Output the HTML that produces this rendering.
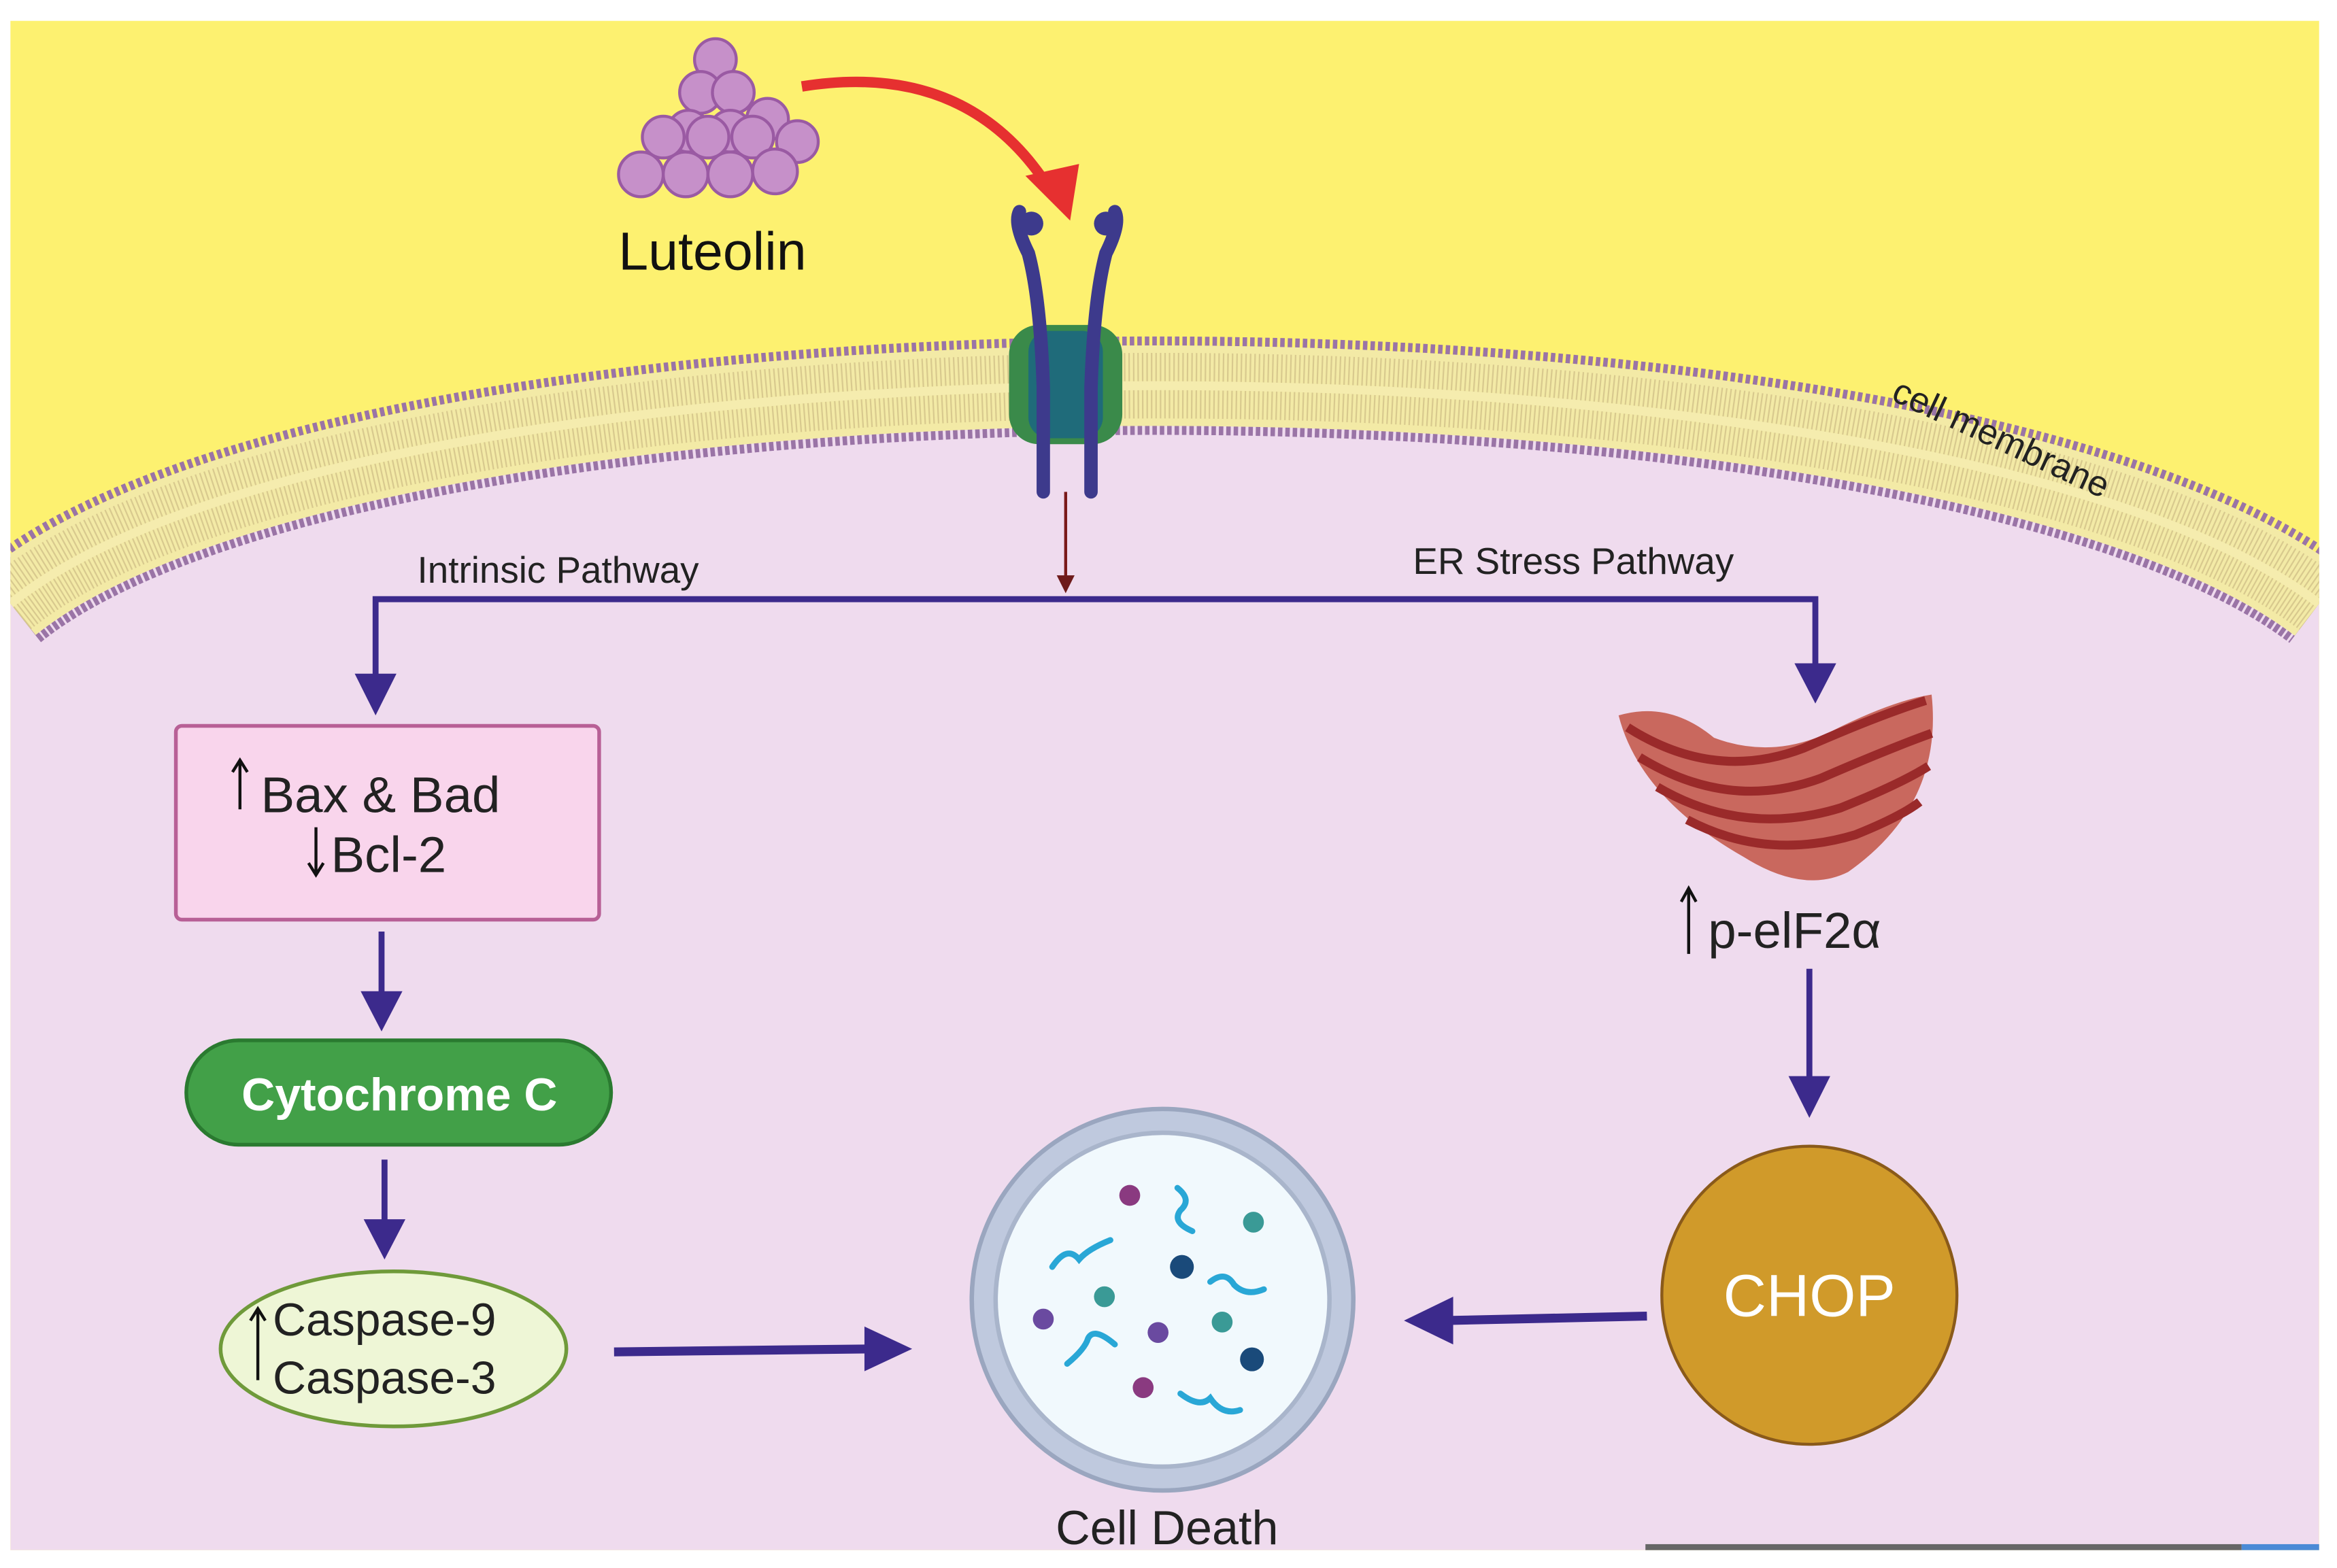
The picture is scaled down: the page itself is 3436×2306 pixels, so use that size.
<!DOCTYPE html>
<html><head><meta charset="utf-8"><style>
html,body{margin:0;padding:0;background:#fff;}
svg{display:block;}
text{font-family:"Liberation Sans",sans-serif;}
</style></head><body>
<svg width="3436" height="2306" viewBox="0 0 1568 1052" preserveAspectRatio="none" xmlns="http://www.w3.org/2000/svg">
<defs>
<marker id="ahr" markerWidth="6" markerHeight="6" refX="3" refY="3" orient="auto" markerUnits="strokeWidth"><path d="M0,0 L6,3 L0,6 Z" fill="#6e1a1a"/></marker>
<clipPath id="cp"><rect x="7" y="14" width="1549" height="1026"/></clipPath>
</defs>
<rect x="7" y="14" width="1549" height="1026" fill="#fdf170"/>
<g clip-path="url(#cp)">
<path d="M7,405 C250,210 1300,210 1556,405 L1556,1040 L7,1040 Z" fill="#efdbee"/>
<path d="M7,405 C250,210 1300,210 1556,405" fill="none" stroke="#9a74a6" stroke-width="66" stroke-dasharray="3 2"/>
<path d="M7,405 C250,210 1300,210 1556,405" fill="none" stroke="#f3eaa6" stroke-width="54"/>
<path d="M7,405 C250,210 1300,210 1556,405" fill="none" stroke="#d8c98e" stroke-width="44" stroke-dasharray="1 2"/>
<path d="M7,405 C250,210 1300,210 1556,405" fill="none" stroke="#f5ecae" stroke-width="6"/>
</g>
<text x="1268" y="268" font-size="24" fill="#222" transform="rotate(25 1268 268)">cell membrane</text>
<!-- receptor -->
<rect x="677" y="218" width="76" height="80" rx="20" fill="#3a8a4a"/>
<rect x="690" y="222" width="50" height="72" rx="14" fill="#1f6b7a"/>
<path d="M700,330 L700,260 Q698,200 690,170 Q680,150 684,142" fill="none" stroke="#3d3a8c" stroke-width="9" stroke-linecap="round"/>
<path d="M732,330 L732,260 Q734,200 742,170 Q752,150 748,142" fill="none" stroke="#3d3a8c" stroke-width="9" stroke-linecap="round"/>
<circle cx="692" cy="150" r="8" fill="#3d3a8c"/><circle cx="742" cy="150" r="8" fill="#3d3a8c"/>
<!-- luteolin cluster -->
<g fill="#c690c9" stroke="#9a5aa3" stroke-width="2">
<circle cx="480" cy="40" r="14"/>
<circle cx="470" cy="62" r="14"/><circle cx="492" cy="62" r="14"/>
<circle cx="462" cy="88" r="14"/><circle cx="490" cy="88" r="14"/><circle cx="515" cy="80" r="14"/>
<circle cx="445" cy="92" r="14"/><circle cx="475" cy="92" r="14"/><circle cx="505" cy="92" r="14"/><circle cx="535" cy="95" r="14"/>
<circle cx="430" cy="117" r="15"/><circle cx="460" cy="117" r="15"/><circle cx="490" cy="117" r="15"/><circle cx="520" cy="115" r="15"/>
</g>
<text x="478" y="181" font-size="36" text-anchor="middle" fill="#111">Luteolin</text>
<path d="M538,58 Q650,40 705,128" fill="none" stroke="#e63030" stroke-width="7"/>
<path d="M688,118 L724,110 L718,148 Z" fill="#e63030"/>
<!-- main lines -->
<line x1="715" y1="330" x2="715" y2="392" stroke="#7a1a1a" stroke-width="2" marker-end="url(#ahr)"/>
<path d="M252,460 L252,402 L1218,402 L1218,455" fill="none" stroke="#3c2a8c" stroke-width="4"/>
<path d="M238,452 L266,452 L252,480 Z" fill="#3c2a8c"/>
<path d="M1204,445 L1232,445 L1218,472 Z" fill="#3c2a8c"/>
<text x="280" y="391" font-size="25" fill="#222">Intrinsic Pathway</text>
<text x="948" y="385" font-size="25" fill="#222">ER Stress Pathway</text>
<!-- Bax box -->
<rect x="118" y="487" width="284" height="130" rx="4" fill="#f9d5ec" stroke="#b86096" stroke-width="2.5"/>
<text x="175" y="545" font-size="34" fill="#222">Bax &amp; Bad</text>
<text x="222" y="585" font-size="34" fill="#222">Bcl-2</text>
<path d="M161,543 L161,512 M156,518 L161,510 L166,518" stroke="#111" stroke-width="2" fill="none"/>
<path d="M212,555 L212,585 M207,579 L212,587 L217,579" stroke="#111" stroke-width="2" fill="none"/>
<line x1="256" y1="625" x2="256" y2="670" stroke="#3c2a8c" stroke-width="4"/>
<path d="M242,665 L270,665 L256,692 Z" fill="#3c2a8c"/>
<!-- Cytochrome -->
<rect x="125" y="698" width="285" height="70" rx="35" fill="#42a048" stroke="#2a7a30" stroke-width="2.5"/>
<text x="268" y="745" font-size="31" text-anchor="middle" fill="#fff" font-weight="bold">Cytochrome C</text>
<line x1="258" y1="778" x2="258" y2="822" stroke="#3c2a8c" stroke-width="4"/>
<path d="M244,818 L272,818 L258,845 Z" fill="#3c2a8c"/>
<!-- Caspase -->
<ellipse cx="264" cy="905" rx="116" ry="52" fill="#eef6d6" stroke="#6f9a3a" stroke-width="2.5"/>
<text x="183" y="896" font-size="31" fill="#222">Caspase-9</text>
<text x="183" y="935" font-size="31" fill="#222">Caspase-3</text>
<path d="M173,926 L173,880 M168,886 L173,878 L178,886" stroke="#111" stroke-width="2" fill="none"/>
<line x1="412" y1="907" x2="585" y2="905" stroke="#3c2a8c" stroke-width="6"/>
<path d="M580,890 L612,905 L580,920 Z" fill="#3c2a8c"/>
<!-- ER -->
<path d="M1086,480 Q1120,470 1150,495 Q1190,510 1230,490 Q1270,470 1296,466 Q1304,540 1240,585 Q1210,600 1170,575 Q1100,535 1086,480 Z" fill="#c9685e"/>
<g fill="none" stroke="#9a2a2a" stroke-width="6">
<path d="M1092,488 Q1150,525 1210,502 Q1260,480 1292,470"/>
<path d="M1100,508 Q1160,545 1222,522 Q1268,502 1296,492"/>
<path d="M1112,528 Q1170,562 1235,542 Q1275,526 1294,514"/>
<path d="M1132,550 Q1185,578 1245,560 Q1275,548 1288,538"/>
</g>
<text x="1146" y="636" font-size="34" fill="#222">p-elF2α</text>
<path d="M1133,640 L1133,598 M1128,605 L1133,596 L1138,605" stroke="#111" stroke-width="2" fill="none"/>
<line x1="1214" y1="650" x2="1214" y2="725" stroke="#3c2a8c" stroke-width="4"/>
<path d="M1200,722 L1228,722 L1214,750 Z" fill="#3c2a8c"/>
<!-- CHOP -->
<ellipse cx="1214" cy="869" rx="99" ry="100" fill="#d09a2a" stroke="#8a5a1a" stroke-width="2"/>
<text x="1214" y="883" font-size="40" text-anchor="middle" fill="#fff">CHOP</text>
<line x1="1105" y1="883" x2="968" y2="886" stroke="#3c2a8c" stroke-width="6"/>
<path d="M975,870 L942,886 L975,902 Z" fill="#3c2a8c"/>
<!-- cell death -->
<ellipse cx="780" cy="872" rx="128" ry="128" fill="#bfc9de" stroke="#9aa6bf" stroke-width="3"/>
<ellipse cx="780" cy="872" rx="112" ry="112" fill="#f1f9fd" stroke="#a9b5cb" stroke-width="3"/>
<g fill="none" stroke="#29a7d6" stroke-width="4" stroke-linecap="round">
<path d="M790,797 Q800,805 792,812 Q786,820 800,826"/>
<path d="M706,850 Q716,835 724,845 Q730,838 745,832"/>
<path d="M812,860 Q822,852 828,862 Q836,870 848,865"/>
<path d="M716,915 Q728,905 730,898 Q734,890 748,902"/>
<path d="M792,935 Q805,945 812,938 Q820,950 832,946"/>
</g>
<circle cx="758" cy="802" r="7" fill="#8a3a80"/>
<circle cx="841" cy="820" r="7" fill="#3a9a96"/>
<circle cx="793" cy="850" r="8" fill="#1a4a7a"/>
<circle cx="741" cy="870" r="7" fill="#3a9a96"/>
<circle cx="700" cy="885" r="7" fill="#6a4aa0"/>
<circle cx="777" cy="894" r="7" fill="#6a4aa0"/>
<circle cx="820" cy="887" r="7" fill="#3a9a96"/>
<circle cx="840" cy="912" r="8" fill="#1a4a7a"/>
<circle cx="767" cy="931" r="7" fill="#8a3a80"/>
<text x="783" y="1036" font-size="32" text-anchor="middle" fill="#222">Cell Death</text>
<rect x="1104" y="1036" width="400" height="4" fill="#666"/>
<rect x="1504" y="1036" width="52" height="4" fill="#4a8ad6"/>
</svg>
</body></html>
